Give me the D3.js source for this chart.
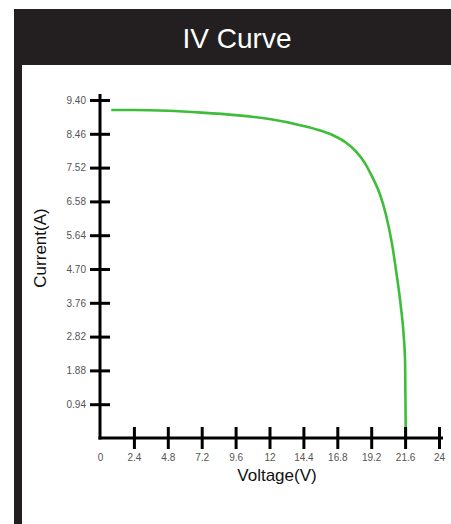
<!DOCTYPE html>
<html>
<head>
<meta charset="utf-8">
<script src="https://cdn.jsdelivr.net/npm/d3@7"></script>
<style>
  body { margin: 0; background: #fff; }
  text { font-family: "Liberation Sans", Arial, sans-serif; }
</style>
</head>
<body>
<svg id="chart" width="451" height="524"></svg>
<script>
// IV curve points
const voltage = [0.8, 2.4, 4.8, 7.2, 9.6, 12, 14.4, 15.6, 16.6, 17.4, 18.1, 18.7, 19.3, 19.8, 20.25, 20.65, 21.0, 21.3, 21.5, 21.6, 21.65];
const current = [9.12, 9.12, 9.10, 9.05, 8.98, 8.87, 8.68, 8.55, 8.40, 8.22, 7.98, 7.68, 7.24, 6.80, 6.20, 5.45, 4.55, 3.65, 2.85, 2.1, 0];
const xTicks = [0, 2.4, 4.8, 7.2, 9.6, 12, 14.4, 16.8, 19.2, 21.6, 24];
const yTicks = [0.94, 1.88, 2.82, 3.76, 4.70, 5.64, 6.58, 7.52, 8.46, 9.40];

const svg = d3.select('#chart');
const dark = '#231f20';

// title band + left strip
svg.append('rect').attr('x', 14).attr('y', 9).attr('width', 437).attr('height', 56).attr('fill', dark);
svg.append('rect').attr('x', 14).attr('y', 65).attr('width', 8).attr('height', 459).attr('fill', dark);
svg.append('text')
  .attr('x', 237).attr('y', 48)
  .attr('text-anchor', 'middle')
  .attr('fill', '#fff')
  .style('font-size', '28px')
  .text('IV Curve');

const x = d3.scaleLinear().domain([0, 24]).range([100, 439]);
const y = d3.scaleLinear().domain([0, 9.4]).range([438, 100]);

// curve (drawn below axes)
const pts = voltage.map((v, i) => ({v, c: current[i]}));
svg.append('path')
  .datum(pts)
  .attr('fill', 'none')
  .attr('stroke', '#3dbd3a')
  .attr('stroke-width', 2.6)
  .attr('d', d3.line().x(d => x(d.v)).y(d => y(d.c)).curve(d3.curveMonotoneX));

// y axis
const gy = svg.append('g')
  .attr('transform', `translate(${x(0)},0)`)
  .call(d3.axisLeft(y).tickValues(yTicks).tickFormat(d3.format('.2f')).tickSize(10));
gy.select('.domain').remove();
gy.selectAll('.tick line').attr('x1', -10).attr('x2', 10).attr('stroke', '#000').attr('stroke-width', 3);
gy.selectAll('.tick text').attr('x', -14).attr('fill', '#555').style('font-size', '10px');
svg.append('line')
  .attr('x1', x(0)).attr('x2', x(0)).attr('y1', 94).attr('y2', y(0) + 1.5)
  .attr('stroke', '#000').attr('stroke-width', 3);

// x axis
const gx = svg.append('g')
  .attr('transform', `translate(0,${y(0)})`)
  .call(d3.axisBottom(x).tickValues(xTicks).tickFormat(d => d).tickSize(11));
gx.select('.domain').remove();
gx.selectAll('.tick line').attr('y1', -11).attr('y2', 11).attr('stroke', '#000').attr('stroke-width', 3)
  .filter(d => d === 0).remove();
gx.selectAll('.tick text').attr('y', 16).attr('fill', '#555').style('font-size', '10px');
svg.append('line')
  .attr('x1', x(0) - 1.5).attr('x2', 443).attr('y1', y(0)).attr('y2', y(0))
  .attr('stroke', '#000').attr('stroke-width', 3);

// axis titles
svg.append('text')
  .attr('x', 277).attr('y', 481)
  .attr('text-anchor', 'middle')
  .attr('fill', '#111')
  .style('font-size', '17px')
  .text('Voltage(V)');
svg.append('text')
  .attr('transform', 'translate(46,248) rotate(-90)')
  .attr('text-anchor', 'middle')
  .attr('fill', '#111')
  .style('font-size', '17px')
  .text('Current(A)');
</script>
</body>
</html>
